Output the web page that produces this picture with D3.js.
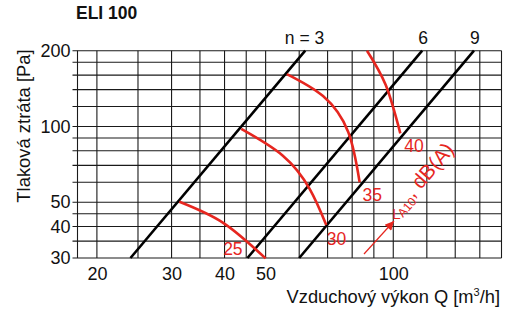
<!DOCTYPE html>
<html><head><meta charset="utf-8">
<script src="https://cdn.jsdelivr.net/npm/d3@7"></script>
<style>
html,body{margin:0;padding:0;background:#fff;}
svg text{font-family:"Liberation Sans",Arial,Helvetica,sans-serif;}
</style>
</head><body>
<svg id="chart" width="505" height="311"></svg>
<script>
// ---- data ----
const chartTitle = "ELI 100";
const xTickValues = [20, 30, 40, 50, 100];
const yTickValues = [30, 40, 50, 100, 200];
const xGridValues = [18, 20, 25, 30, 35, 40, 45, 50, 60, 70, 80, 90, 100, 120, 140, 160, 180];
const yGridValues = [30, 35, 40, 45, 50, 60, 70, 80, 90, 100, 120, 140, 160, 180, 200];
// system lines (Q [m3/h], p [Pa]) end points
const systemNames = ["n = 3", "6", "9"];
const systemLines = [
  [[24, 30], [62, 200]],
  [[45.3, 30], [117, 200]],
  [[60, 30], [155, 200]]
];
// sound-level curves L_A10 dB(A)
const soundLevels = ["25", "30", "35", "40"];
const soundCurves = [
  [[31.3, 50.2], [39.7, 41.4], [50.0, 29.9]],
  [[43.8, 97.7], [54.9, 76.5], [63.5, 56.5], [69.5, 40.6]],
  [[56.1, 161.5], [68.3, 132], [78.3, 95], [83.3, 60.0]],
  [[86.7, 200], [96.0, 146], [103.9, 93.9]]
];
const xTitle = "Vzduchový výkon Q [m³/h]";
const yTitle = "Tlaková ztráta [Pa]";

// ---- drawing ----
const svg = d3.select("#chart");
const red = "#e6261f";
const x = d3.scaleLog().domain([18, 180]).range([77.5, 501.5]);
const y = d3.scaleLog().domain([30, 200]).range([258, 50.7]);

const grid = svg.append("g");
grid.selectAll("line.v").data(xGridValues).join("line")
  .attr("x1", d => x(d)).attr("x2", d => x(d))
  .attr("y1", y(30)).attr("y2", y(200))
  .attr("stroke", "#1a1a1a").attr("stroke-width", 1.1);
grid.selectAll("line.h").data(yGridValues).join("line")
  .attr("x1", x(18) - 5).attr("x2", x(180))
  .attr("y1", d => y(d)).attr("y2", d => y(d))
  .attr("stroke", "#1a1a1a").attr("stroke-width", 1.1);

// axes labels via d3 axes
const yAxis = d3.axisLeft(y).tickValues(yTickValues).tickFormat(d3.format("d")).tickSize(0).tickPadding(7);
svg.append("g").attr("transform", `translate(${x(18)},0)`).call(yAxis)
  .call(g => g.select(".domain").remove())
  .selectAll("text").attr("font-size", 18).attr("fill", "#111")
  .style("font-family", '"Liberation Sans",Arial,sans-serif');
const xAxis = d3.axisBottom(x).tickValues(xTickValues).tickFormat(d3.format("d")).tickSize(0).tickPadding(9);
svg.append("g").attr("transform", `translate(0,${y(30)})`).call(xAxis)
  .call(g => g.select(".domain").remove())
  .selectAll("text").attr("font-size", 18).attr("fill", "#111")
  .style("font-family", '"Liberation Sans",Arial,sans-serif');

// system lines
const line = d3.line().x(d => x(d[0])).y(d => y(d[1]));
svg.append("g").selectAll("path").data(systemLines).join("path")
  .attr("d", line).attr("fill", "none").attr("stroke", "#000").attr("stroke-width", 2.6);

// sound curves
const curve = d3.line().x(d => x(d[0])).y(d => y(d[1])).curve(d3.curveNatural);
svg.append("g").selectAll("path").data(soundCurves).join("path")
  .attr("d", curve).attr("fill", "none").attr("stroke", red).attr("stroke-width", 2.6);

// sound labels
const labelOffsets = [[-42.5, -3], [0.6, 20], [3, 19], [4, 19]];
svg.append("g").selectAll("text").data(soundLevels).join("text")
  .attr("x", (d, i) => x(soundCurves[i][soundCurves[i].length - 1][0]) + labelOffsets[i][0])
  .attr("y", (d, i) => y(soundCurves[i][soundCurves[i].length - 1][1]) + labelOffsets[i][1])
  .attr("font-size", 17.5).attr("fill", red).text(d => d);

// system labels
const sysAnchor = ["end", "middle", "middle"];
const sysDx = [19, 1, 1];
svg.append("g").selectAll("text").data(systemNames).join("text")
  .attr("x", (d, i) => x(systemLines[i][1][0]) + sysDx[i])
  .attr("y", 44)
  .attr("text-anchor", (d, i) => sysAnchor[i])
  .attr("font-size", 17.5).attr("fill", "#111").text(d => d);

// title
svg.append("text").attr("x", 76).attr("y", 19).attr("font-size", 17.5)
  .attr("font-weight", "bold").attr("fill", "#111").text(chartTitle);

// axis titles
svg.append("text").attr("x", 500).attr("y", 303).attr("text-anchor", "end")
  .attr("font-size", 18.3).attr("fill", "#111")
  .html('Vzduchový výkon Q [m<tspan dy="-7" font-size="11">3</tspan><tspan dy="7">/h]</tspan>');
svg.append("text").attr("transform", "translate(29.5,126) rotate(-90)")
  .attr("text-anchor", "middle").attr("font-size", 18.4).attr("fill", "#111").text(yTitle);

// L_A10 label and arrow
svg.append("text").attr("x", 392).attr("y", 219).attr("font-size", 15.5).attr("fill", red).text("L");
const lbl = svg.append("text").attr("transform", "translate(403,218) rotate(-49)")
  .attr("fill", red).attr("font-size", 20.5);
lbl.append("tspan").attr("font-size", 12).text("A10");
lbl.append("tspan").attr("dy", -5).text(", dB(A)");

const defs = svg.append("defs");
defs.append("marker").attr("id", "ah").attr("viewBox", "0 0 10 10").attr("refX", 10).attr("refY", 5)
  .attr("markerWidth", 12).attr("markerHeight", 9).attr("markerUnits", "userSpaceOnUse")
  .attr("orient", "auto")
  .append("path").attr("d", "M0,0 L10,5 L0,10 Z").attr("fill", red);
svg.append("line").attr("x1", 364).attr("y1", 254).attr("x2", 394).attr("y2", 221)
  .attr("stroke", red).attr("stroke-width", 1.2).attr("marker-end", "url(#ah)");
</script>
</body></html>
